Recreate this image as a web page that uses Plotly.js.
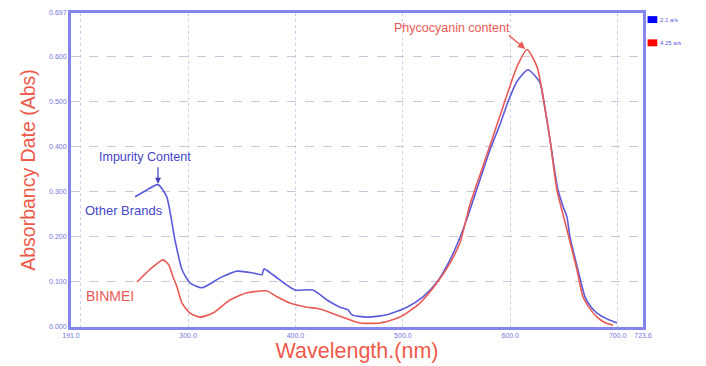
<!DOCTYPE html>
<html>
<head>
<meta charset="utf-8">
<script src="https://cdn.plot.ly/plotly-3.0.1.min.js"></script>
<style>html,body{margin:0;padding:0;background:#fff;}#chart{width:706px;height:366px;}</style>
</head>
<body>
<div id="chart"></div>
<script>
// Other Brands (blue, 2.1 a/s)
const blueWl = [250.6, 260, 272, 280, 287.8, 294.4, 301.8, 313, 329.7, 345.6, 360.5, 368.8, 370.7, 379, 392, 399.6, 416.3, 429.4, 441.5, 449, 452.6, 466.6, 485.2, 503.8, 518.7, 531.8, 543.9, 556, 562.5, 581.1, 590.5, 597.9, 606.3, 616.5, 627.7, 632, 637, 644.4, 650, 652.8, 655.6, 663, 669.6, 675, 680.8, 690, 699.4];
const blueAbs = [0.289, 0.302, 0.316, 0.290, 0.193, 0.127, 0.098, 0.087, 0.109, 0.124, 0.120, 0.116, 0.129, 0.116, 0.093, 0.082, 0.082, 0.060, 0.044, 0.038, 0.027, 0.022, 0.027, 0.044, 0.067, 0.100, 0.149, 0.216, 0.260, 0.393, 0.450, 0.500, 0.545, 0.571, 0.542, 0.490, 0.416, 0.304, 0.262, 0.244, 0.200, 0.127, 0.067, 0.045, 0.031, 0.018, 0.009];
// BINMEI (red, 4.25 a/s)
const redWl = [252.5, 264.6, 276.7, 282, 286, 289.7, 294.4, 301.8, 311.1, 323.2, 339, 354.9, 373.5, 382.8, 394.9, 410.7, 422.8, 441.5, 460.1, 478.7, 497.3, 515.9, 531.8, 543.9, 553.2, 562.5, 575, 585.8, 595.1, 606.3, 615.6, 624.9, 630.5, 637, 643.5, 652.8, 662.1, 667.7, 675, 680.8, 688, 695.7];
const redAbs = [0.100, 0.128, 0.149, 0.138, 0.111, 0.089, 0.053, 0.031, 0.022, 0.031, 0.060, 0.076, 0.080, 0.067, 0.053, 0.044, 0.040, 0.024, 0.009, 0.009, 0.022, 0.053, 0.098, 0.142, 0.187, 0.272, 0.360, 0.436, 0.502, 0.578, 0.616, 0.578, 0.511, 0.416, 0.304, 0.216, 0.127, 0.067, 0.038, 0.022, 0.010, 0.004];

const xTickVals = [191, 300, 400, 500, 600, 700, 723.6];
const xTickText = ["191.0", "300.0", "400.0", "500.0", "600.0", "700.0", "723.6"];
const yTickVals = [0, 0.1, 0.2, 0.3, 0.4, 0.5, 0.6, 0.697];
const yTickText = ["0.000", "0.100", "0.200", "0.300", "0.400", "0.500", "0.600", "0.697"];
const legendNames = ["2.1 a/s", "4.25 a/s"];

const BLUE = "#5b5bdc";
const RED = "#ea5a55";
const FRAME = "#8585ee";
const TITLE_RED = "#ee5a4a";

const traces = [
  {x: blueWl, y: blueAbs, type: "scatter", mode: "lines", name: legendNames[0],
   line: {color: BLUE, width: 1.6, shape: "spline", smoothing: 0.6}, showlegend: false},
  {x: redWl, y: redAbs, type: "scatter", mode: "lines", name: legendNames[1],
   line: {color: RED, width: 1.6, shape: "spline", smoothing: 0.6}, showlegend: false}
];

const layout = {
  width: 706, height: 366,
  margin: {l: 71, r: 63, t: 13, b: 39},
  paper_bgcolor: "#ffffff", plot_bgcolor: "#ffffff",
  font: {family: "Liberation Sans, Arial, sans-serif"},
  xaxis: {
    range: [191, 723.6], tickmode: "array", tickvals: xTickVals, ticktext: xTickText,
    tickfont: {size: 7, color: "#7474d8"}, ticks: "", showline: true, mirror: true,
    linecolor: FRAME, linewidth: 3, showgrid: true, gridcolor: "#d0d0ec", griddash: "dot", gridwidth: 1,
    zeroline: false,
    minor: {tickmode: "array", tickvals: [200], showgrid: true, gridcolor: "#d0d0ec", griddash: "dot"},
    title: {text: "Wavelength.(nm)", font: {size: 21.5, color: TITLE_RED}, standoff: 3}
  },
  yaxis: {
    range: [0, 0.697], tickmode: "array", tickvals: yTickVals, ticktext: yTickText,
    tickfont: {size: 7, color: "#7474d8"}, ticks: "", showline: true, mirror: true,
    linecolor: FRAME, linewidth: 3, showgrid: true, gridcolor: "#c8c8d8", griddash: "dash", gridwidth: 1,
    zeroline: false,
    title: {text: "Absorbancy Date (Abs)", font: {size: 19.5, color: TITLE_RED}, standoff: 9}
  },
  shapes: [
    {type: "rect", xref: "paper", yref: "paper", x0: 1.008, x1: 1.025, y0: 0.968, y1: 0.99, fillcolor: "#0000ff", line: {width: 0}},
    {type: "rect", xref: "paper", yref: "paper", x0: 1.008, x1: 1.025, y0: 0.894, y1: 0.916, fillcolor: "#ff0000", line: {width: 0}}
  ],
  annotations: [
    {xref: "paper", yref: "paper", x: 1.027, y: 0.979, xanchor: "left", yanchor: "middle", text: legendNames[0], showarrow: false, font: {size: 6, color: "#5b5bdc"}},
    {xref: "paper", yref: "paper", x: 1.027, y: 0.905, xanchor: "left", yanchor: "middle", text: legendNames[1], showarrow: false, font: {size: 6, color: "#5b5bdc"}},
    {x: 614, y: 0.617, ax: -18, ay: -15, xanchor: "center", text: "", showarrow: true, arrowhead: 2, arrowsize: 1, arrowwidth: 1.5, arrowcolor: RED},
    {x: 601.5, y: 0.664, xanchor: "right", yanchor: "middle", text: "Phycocyanin content", showarrow: false, font: {size: 12.5, color: RED}},
    {x: 272, y: 0.318, ax: 0, ay: -18, text: "", showarrow: true, arrowhead: 2, arrowsize: 1, arrowwidth: 1.2, arrowcolor: "#4040c0"},
    {x: 215, y: 0.378, xanchor: "left", yanchor: "middle", text: "Impurity Content", showarrow: false, font: {size: 12.5, color: "#4545c8"}},
    {x: 202, y: 0.258, xanchor: "left", yanchor: "middle", text: "Other Brands", showarrow: false, font: {size: 13, color: "#4545c8"}},
    {x: 203, y: 0.069, xanchor: "left", yanchor: "middle", text: "BINMEI", showarrow: false, font: {size: 14, color: RED}}
  ]
};

Plotly.newPlot("chart", traces, layout, {displayModeBar: false, staticPlot: true});
</script>
</body>
</html>
